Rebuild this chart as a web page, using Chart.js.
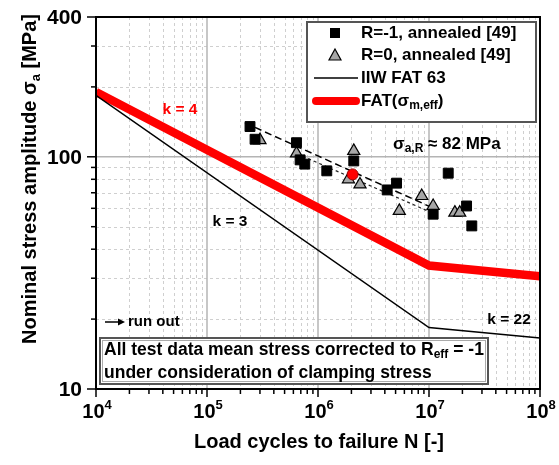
<!DOCTYPE html>
<html>
<head>
<meta charset="utf-8">
<script src="https://cdn.jsdelivr.net/npm/chart.js@4"></script>
<style>
  html, body { margin: 0; padding: 0; background: #fff; }
  #wrap { width: 559px; height: 465px; }
</style>
</head>
<body>
<div id="wrap"><canvas id="chart"></canvas></div>
<script>
// R=-1, annealed [49]
const r1Cycles = [2.44e5, 2.71e5, 6.4e5, 6.9e5, 7.6e5, 1.2e6, 2.1e6, 4.2e6, 5.1e6, 1.09e7, 1.49e7, 2.18e7, 2.43e7];
const r1Stress = [135, 119, 115, 97, 93, 87, 96, 72, 77, 56.6, 85, 61.4, 50.4];
// R=0, annealed [49]
const r0Cycles = [3.0e5, 6.4e5, 2.1e6, 1.88e6, 2.39e6, 5.4e6, 8.6e6, 1.09e7, 1.71e7, 1.89e7];
const r0Stress = [118, 103.5, 106, 80, 76, 58.5, 67.8, 61.4, 57.5, 57.5];
// reference point sigma_a,R at 2e6
const refCycles = [2.05e6];
const refStress = [84];
// scatter band fit lines
const fitR1Cycles = [2.2e5, 1.1e7];
const fitR1Stress = [140, 60];
const fitR0Cycles = [6.5e5, 1.1e7];
const fitR0Stress = [103, 57];
// IIW FAT 63 (amplitude)
const iiwCycles = [1e4, 1e7, 1e8];
const iiwStress = [184, 18.4, 16.6];
// FAT(sigma_m,eff)
const effCycles = [1e4, 1e7, 1e8];
const effStress = [190, 34, 30.6];

const xMajor = [1e4, 1e5, 1e6, 1e7, 1e8];
const xExponents = ['4', '5', '6', '7', '8'];
const yMajor = [400, 100, 10];
const yMajorLabels = ['400', '100', '10'];
const yGridSolid = [100];
const yMinor = [20, 30, 40, 50, 60, 70, 80, 90, 200, 300];

const legendLabels = ['R=-1, annealed [49]', 'R=0, annealed [49]', 'IIW FAT 63', 'FAT('];

const FONT = "'Liberation Sans', Arial, sans-serif";

const pts = (xs, ys) => xs.map((x, i) => ({x, y: ys[i]}));

function xMinorValues() {
  const out = [];
  for (let d = 1e4; d < 1e8; d *= 10) {
    for (let m = 2; m <= 9; m++) out.push(d * m);
  }
  return out;
}

// draw a run of text pieces; each piece {t, size, dy}
function drawRich(ctx, parts, x, y, align, color) {
  let w = 0;
  parts.forEach(p => {
    ctx.font = `bold ${p.size}px ${FONT}`;
    p.w = ctx.measureText(p.t).width;
    w += p.w;
  });
  let cx = align === 'center' ? x - w / 2 : align === 'right' ? x - w : x;
  ctx.fillStyle = color || '#000';
  ctx.textBaseline = 'middle';
  ctx.textAlign = 'left';
  parts.forEach(p => {
    ctx.font = `bold ${p.size}px ${FONT}`;
    ctx.fillText(p.t, cx, y + (p.dy || 0));
    cx += p.w;
  });
}

const gridPlugin = {
  id: 'sngrid',
  beforeDatasetsDraw(chart) {
    const {ctx, chartArea: a, scales: {x, y}} = chart;
    ctx.save();
    ctx.lineWidth = 1;
    ctx.strokeStyle = '#cfcfcf';
    ctx.setLineDash([3, 3]);
    xMinorValues().forEach(v => {
      const px = Math.round(x.getPixelForValue(v)) + 0.5;
      ctx.beginPath(); ctx.moveTo(px, a.top); ctx.lineTo(px, a.bottom); ctx.stroke();
    });
    yMinor.forEach(v => {
      const py = Math.round(y.getPixelForValue(v)) + 0.5;
      ctx.beginPath(); ctx.moveTo(a.left, py); ctx.lineTo(a.right, py); ctx.stroke();
    });
    ctx.setLineDash([]);
    ctx.strokeStyle = '#b4b4b4';
    ctx.lineWidth = 1.5;
    xMajor.slice(1, -1).forEach(v => {
      const px = x.getPixelForValue(v);
      ctx.beginPath(); ctx.moveTo(px, a.top); ctx.lineTo(px, a.bottom); ctx.stroke();
    });
    yGridSolid.forEach(v => {
      const py = y.getPixelForValue(v);
      ctx.beginPath(); ctx.moveTo(a.left, py); ctx.lineTo(a.right, py); ctx.stroke();
    });
    ctx.restore();
  },
  afterDraw(chart) {
    const {ctx, chartArea: a, scales: {x, y}} = chart;
    ctx.save();

    // frame
    ctx.strokeStyle = '#000';
    ctx.lineWidth = 2;
    ctx.strokeRect(a.left, a.top, a.right - a.left, a.bottom - a.top);

    // ticks
    ctx.lineWidth = 1.5;
    yMajor.forEach(v => {
      const py = y.getPixelForValue(v);
      ctx.beginPath(); ctx.moveTo(a.left - 9, py); ctx.lineTo(a.left, py); ctx.stroke();
    });
    yMinor.forEach(v => {
      const py = y.getPixelForValue(v);
      ctx.beginPath(); ctx.moveTo(a.left - 5, py); ctx.lineTo(a.left + 1, py); ctx.stroke();
    });
    xMajor.forEach(v => {
      const px = x.getPixelForValue(v);
      ctx.beginPath(); ctx.moveTo(px, a.bottom); ctx.lineTo(px, a.bottom + 8); ctx.stroke();
    });
    xMinorValues().forEach(v => {
      const px = x.getPixelForValue(v);
      ctx.beginPath(); ctx.moveTo(px, a.bottom); ctx.lineTo(px, a.bottom + 5); ctx.stroke();
    });

    // tick labels
    yMajor.forEach((v, i) => {
      drawRich(ctx, [{t: yMajorLabels[i], size: 21}], a.left - 14, y.getPixelForValue(v) + 1, 'right');
    });
    xMajor.forEach((v, i) => {
      drawRich(ctx, [{t: '10', size: 20}, {t: xExponents[i], size: 13, dy: -7}], x.getPixelForValue(v) + 1, a.bottom + 23, 'center');
    });

    // axis titles
    drawRich(ctx, [{t: 'Load cycles to failure N [-]', size: 20}], 319, 442, 'center');
    ctx.save();
    ctx.translate(30, 179);
    ctx.rotate(-Math.PI / 2);
    drawRich(ctx, [{t: 'Nominal stress amplitude σ', size: 20}, {t: 'a', size: 13, dy: 6}, {t: ' [MPa]', size: 20}], 0, 0, 'center');
    ctx.restore();

    // annotations
    drawRich(ctx, [{t: 'k = 4', size: 15.5}], 180, 110, 'center', '#ff0000');
    drawRich(ctx, [{t: 'k = 3', size: 15.5}], 230, 222, 'center');
    drawRich(ctx, [{t: 'k = 22', size: 15.5}], 509, 320, 'center');
    drawRich(ctx, [{t: 'σ', size: 17}, {t: 'a,R', size: 12, dy: 5}, {t: ' ≈ 82 MPa', size: 17}], 393, 144, 'left');

    // run out arrow
    ctx.strokeStyle = '#000';
    ctx.fillStyle = '#000';
    ctx.lineWidth = 1.5;
    ctx.beginPath(); ctx.moveTo(105, 322); ctx.lineTo(119, 322); ctx.stroke();
    ctx.beginPath(); ctx.moveTo(125, 322); ctx.lineTo(118, 318.5); ctx.lineTo(118, 325.5); ctx.closePath(); ctx.fill();
    drawRich(ctx, [{t: 'run out', size: 15}], 128, 322, 'left');

    // note box
    ctx.fillStyle = '#fff';
    ctx.fillRect(100, 338, 388, 46);
    ctx.strokeStyle = '#555';
    ctx.lineWidth = 2;
    ctx.strokeRect(100, 338, 388, 46);
    ctx.strokeStyle = '#aaa';
    ctx.lineWidth = 1;
    ctx.strokeRect(102.5, 340.5, 383, 41);
    drawRich(ctx, [{t: 'All test data mean stress corrected to R', size: 17.5}, {t: 'eff', size: 12, dy: 5}, {t: ' = -1', size: 17.5}], 104, 350, 'left');
    drawRich(ctx, [{t: 'under consideration of clamping stress', size: 17.5}], 104, 373, 'left');

    // legend
    const lx = 307, ly = 22, lw = 229, lh = 100;
    ctx.fillStyle = '#fff';
    ctx.fillRect(lx, ly, lw, lh);
    ctx.strokeStyle = '#555';
    ctx.lineWidth = 2;
    ctx.strokeRect(lx, ly, lw, lh);
    const rows = [33, 55, 78, 101];
    const tx = 361;
    // square
    ctx.fillStyle = '#000';
    ctx.fillRect(335 - 5, rows[0] - 5, 10, 10);
    // triangle
    ctx.fillStyle = '#a6a6a6';
    ctx.strokeStyle = '#000';
    ctx.lineWidth = 1.2;
    ctx.beginPath();
    ctx.moveTo(335, rows[1] - 6); ctx.lineTo(341, rows[1] + 5); ctx.lineTo(329, rows[1] + 5); ctx.closePath();
    ctx.fill(); ctx.stroke();
    // lines
    ctx.strokeStyle = '#000';
    ctx.lineWidth = 1.5;
    ctx.beginPath(); ctx.moveTo(314, rows[2]); ctx.lineTo(358, rows[2]); ctx.stroke();
    ctx.strokeStyle = '#ff0000';
    ctx.lineWidth = 8;
    ctx.lineCap = 'round';
    ctx.beginPath(); ctx.moveTo(316, rows[3]); ctx.lineTo(356, rows[3]); ctx.stroke();
    ctx.lineCap = 'butt';
    drawRich(ctx, [{t: legendLabels[0], size: 17}], tx, rows[0], 'left');
    drawRich(ctx, [{t: legendLabels[1], size: 17}], tx, rows[1], 'left');
    drawRich(ctx, [{t: legendLabels[2], size: 17}], tx, rows[2], 'left');
    drawRich(ctx, [{t: legendLabels[3] + 'σ', size: 17}, {t: 'm,eff', size: 12, dy: 5}, {t: ')', size: 17}], tx, rows[3], 'left');

    ctx.restore();
  }
};

new Chart(document.getElementById('chart'), {
  type: 'scatter',
  data: {
    datasets: [
      {
        label: 'reference',
        data: pts(refCycles, refStress),
        pointStyle: 'circle',
        pointRadius: 5.5,
        backgroundColor: '#ff0000',
        borderColor: '#a00000',
        borderWidth: 1,
      },
      {
        label: legendLabels[0],
        data: pts(r1Cycles, r1Stress),
        pointStyle: 'rect',
        pointRadius: 7,
        backgroundColor: '#000',
        borderColor: '#000',
        borderWidth: 1,
      },
      {
        label: legendLabels[1],
        data: pts(r0Cycles, r0Stress),
        pointStyle: 'triangle',
        pointRadius: 7,
        backgroundColor: '#a6a6a6',
        borderColor: '#000',
        borderWidth: 1.2,
      },
      {
        label: 'fit R=-1',
        data: pts(fitR1Cycles, fitR1Stress),
        showLine: true,
        pointRadius: 0,
        borderColor: '#000',
        borderWidth: 1.5,
        borderDash: [7, 4],
      },
      {
        label: 'fit R=0',
        data: pts(fitR0Cycles, fitR0Stress),
        showLine: true,
        pointRadius: 0,
        borderColor: '#222',
        borderWidth: 1.2,
        borderDash: [3, 3],
      },
      {
        label: legendLabels[2],
        data: pts(iiwCycles, iiwStress),
        showLine: true,
        pointRadius: 0,
        borderColor: '#000',
        borderWidth: 1.5,
      },
      {
        label: 'FAT(σm,eff)',
        data: pts(effCycles, effStress),
        showLine: true,
        pointRadius: 0,
        borderColor: '#ff0000',
        borderWidth: 8.5,
      },
    ],
  },
  options: {
    responsive: true,
    maintainAspectRatio: false,
    animation: false,
    events: [],
    layout: {padding: {top: 17, right: 19, left: 0, bottom: 0}},
    plugins: {
      legend: {display: false},
      tooltip: {enabled: false},
    },
    scales: {
      x: {
        type: 'logarithmic',
        min: 1e4,
        max: 1e8,
        ticks: {display: false},
        grid: {display: false},
        border: {display: false},
        afterFit: (scale) => { scale.height = 76; },
      },
      y: {
        type: 'logarithmic',
        min: 10,
        max: 400,
        ticks: {display: false},
        grid: {display: false},
        border: {display: false},
        afterFit: (scale) => { scale.width = 96; },
      },
    },
  },
  plugins: [gridPlugin],
});
</script>
</body>
</html>
